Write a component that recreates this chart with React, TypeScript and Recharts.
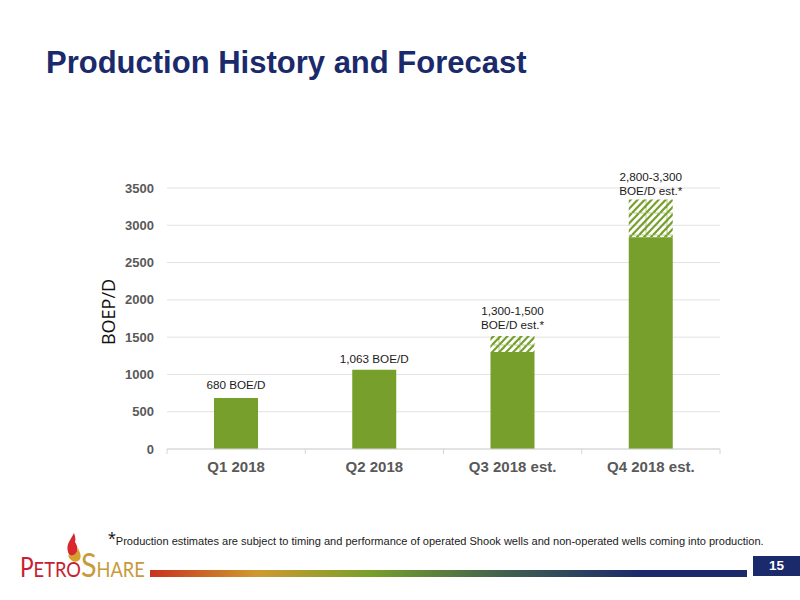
import React from "react";
import { Bar, BarChart, CartesianGrid, LabelList, XAxis, YAxis } from "recharts";

const categories = ["Q1 2018", "Q2 2018", "Q3 2018 est.", "Q4 2018 est."];
const baseValues = [683, 1063, 1300, 2840];
const rangeValues = [0, 0, 215, 505];
const barLabels = [
  ["680 BOE/D"],
  ["1,063 BOE/D"],
  ["1,300-1,500", "BOE/D est.*"],
  ["2,800-3,300", "BOE/D est.*"],
];
const yTicks = [0, 500, 1000, 1500, 2000, 2500, 3000, 3500];

const GREEN = "#779f2b";
const NAVY = "#1b2a6b";
const SANS = "'Liberation Sans', Arial, sans-serif";
const BAND = 553 / categories.length;
const LABEL_LIFT = [9, 7, 7, 5];

const rows = categories.map((name, i) => ({
  name,
  base: baseValues[i],
  range: rangeValues[i],
}));

// recharts skips zero height bars, so the plain bars carry their label on the base series
function BarLabel(props: any) {
  const { x, y, width, value, series } = props;
  const i = categories.indexOf(value);
  if (series === "base" && rangeValues[i] > 0) return null;
  const lines = barLabels[i];
  const lastBaseline = y - LABEL_LIFT[i];
  return (
    <text x={x + width / 2} textAnchor="middle" fontFamily={SANS} fontSize={11.7} fill="#1a1a1a">
      {lines.map((line: string, n: number) => (
        <tspan key={n} x={x + width / 2} y={lastBaseline - (lines.length - 1 - n) * 14}>
          {line}
        </tspan>
      ))}
    </text>
  );
}

// axis ticks sit between the categories, the label stays in the middle
function CategoryTick(props: any) {
  const { x, y, payload, index } = props;
  const axisY = 449;
  const left = x - BAND / 2;
  return (
    <g>
      <line x1={left} x2={left} y1={axisY} y2={axisY + 5} stroke="#d4d4d4" />
      {index === categories.length - 1 ? (
        <line x1={left + BAND} x2={left + BAND} y1={axisY} y2={axisY + 5} stroke="#d4d4d4" />
      ) : null}
      <text x={x} y={y + 11} textAnchor="middle" fontFamily={SANS} fontSize={15} fontWeight={700} fill="#595959">
        {payload.value}
      </text>
    </g>
  );
}

function HatchPattern() {
  const offsets = [-21, -14, -7, 0, 7, 14, 21];
  return (
    <pattern id="hatch" width="21" height="22" patternUnits="userSpaceOnUse" patternTransform="translate(16 15)">
      <rect x="0" y="0" width="21" height="22" fill="none" stroke="#b4cc8a" strokeWidth="1" />
      {offsets.map((o) => (
        <line key={o} x1={o} y1="22" x2={o + 21} y2="0" stroke={GREEN} strokeWidth="2.2" />
      ))}
    </pattern>
  );
}

function Logo() {
  const small: React.CSSProperties = { fontSize: 21 };
  return (
    <div style={{ position: "absolute", left: 0, top: 0 }}>
      <div
        style={{
          position: "absolute",
          left: 20,
          top: 545,
          fontFamily: "Lato, sans-serif",
          fontSize: 26,
          lineHeight: "38px",
          whiteSpace: "nowrap",
          transform: "scaleX(0.87)",
          transformOrigin: "left center",
        }}
      >
        <span style={{ color: "#c8202f" }}>
          P<span style={small}>ETRO</span>
        </span>
        <span style={{ color: "#c79a3b" }}>
          <span style={{ fontSize: 33 }}>S</span>
          <span style={small}>HARE</span>
        </span>
      </div>
      <svg width={150} height={590} style={{ position: "absolute", left: 0, top: 0 }}>
        <path d="M74 533 C70 541 66 544 68 552 C69 556 72 557 74 556 C79 553 78 546 75 542 C76 539 75 536 74 533 Z" fill="#d9272e" />
        <path d="M68 555 C70 562 77 564 80 559 C82 555 79 551 78 548 C77 553 74 557 68 555 Z" fill="#d6a02f" />
      </svg>
    </div>
  );
}

export default function App() {
  return (
    <div style={{ position: "absolute", left: 0, top: 0, width: 800, height: 600, background: "#fff", overflow: "hidden" }}>
      <div
        style={{
          position: "absolute",
          left: 46,
          top: 45,
          fontFamily: SANS,
          fontWeight: 700,
          fontSize: 31,
          lineHeight: "36px",
          color: NAVY,
          whiteSpace: "nowrap",
        }}
      >
        Production History and Forecast
      </div>

      <div style={{ position: "absolute", left: 0, top: 0 }}>
        <BarChart width={800} height={600} data={rows} margin={{ top: 188, right: 80, bottom: 0, left: 117 }}>
          <defs>
            <HatchPattern />
          </defs>
          <CartesianGrid vertical={false} stroke="#e2e2e2" strokeWidth={1} />
          <XAxis dataKey="name" height={151} stroke="#d4d4d4" tickLine={false} tickMargin={6} tick={CategoryTick} />
          <YAxis
            width={50}
            domain={[0, 3500]}
            ticks={yTicks}
            axisLine={false}
            tickLine={false}
            tickSize={0}
            tickMargin={13}
            tick={{ fontFamily: SANS, fontSize: 13, fontWeight: 700, fill: "#595959" }}
          />
          <Bar dataKey="base" stackId="a" fill={GREEN} barSize={44} isAnimationActive={false}>
            <LabelList dataKey="name" content={(p: any) => <BarLabel {...p} series="base" />} />
          </Bar>
          <Bar dataKey="range" stackId="a" fill="url(#hatch)" barSize={44} isAnimationActive={false}>
            <LabelList dataKey="name" content={(p: any) => <BarLabel {...p} series="range" />} />
          </Bar>
        </BarChart>
      </div>

      <div
        style={{
          position: "absolute",
          left: 98,
          top: 312,
          width: 20,
          height: 0,
          display: "flex",
          justifyContent: "center",
          alignItems: "center",
        }}
      >
        <span
          style={{
            transform: "rotate(-90deg)",
            fontFamily: "'Open Sans', sans-serif",
            fontSize: 18,
            color: "#111",
            whiteSpace: "nowrap",
          }}
        >
          BOEP/D
        </span>
      </div>

      <div
        style={{
          position: "absolute",
          left: 108,
          top: 528,
          fontFamily: SANS,
          fontSize: 11.05,
          lineHeight: "20px",
          color: "#1a1a1a",
          whiteSpace: "nowrap",
        }}
      >
        <span style={{ fontSize: 20, position: "relative", top: 1 }}>*</span>
        Production estimates are subject to timing and performance of operated Shook wells and non-operated wells coming into production.
      </div>

      <Logo />

      <div
        style={{
          position: "absolute",
          left: 150,
          top: 570,
          width: 597,
          height: 6.5,
          background:
            "linear-gradient(90deg, #c8321f 0%, #cf9a30 18%, #779f2b 37%, #3f5f50 60%, #1b2a6b 82%, #1b2a6b 100%)",
        }}
      />
      <div
        style={{
          position: "absolute",
          left: 753,
          top: 556,
          width: 47,
          height: 20,
          background: NAVY,
          color: "#fff",
          fontFamily: SANS,
          fontWeight: 700,
          fontSize: 13.5,
          lineHeight: "20px",
          textAlign: "center",
        }}
      >
        15
      </div>
    </div>
  );
}
